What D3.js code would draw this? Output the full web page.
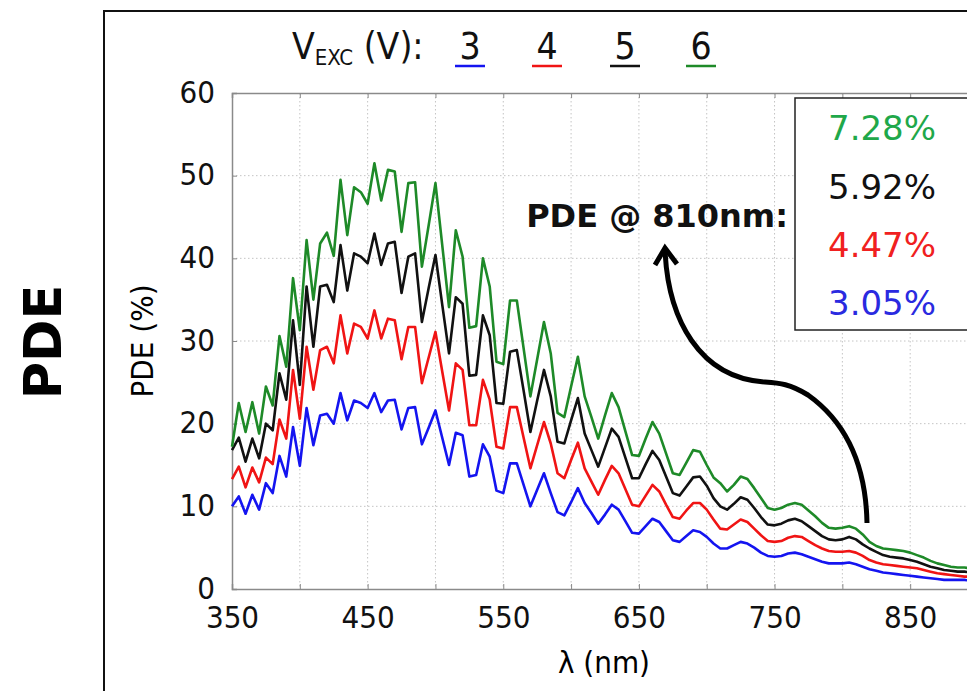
<!DOCTYPE html>
<html>
<head>
<meta charset="utf-8">
<script src="https://cdn.jsdelivr.net/npm/d3@7"></script>
<style>
  body { margin: 0; background: #fff; }
  svg text { font-family: "DejaVu Sans Condensed", "DejaVu Sans", sans-serif; font-stretch: condensed; }
</style>
</head>
<body>
<div id="chart"></div>
<script>
// wavelength samples (nm), every 5 nm
var wavelengths = d3.range(350, 901, 5);

// PDE (%) per excitation voltage
var pde3V = [10.0, 11.2, 9.1, 11.4, 9.6, 12.8, 11.6, 16.1, 13.6, 19.6, 14.9, 21.9, 17.4, 21.0, 21.2, 20.0, 23.7, 20.4, 22.8, 22.5,
  21.9, 23.7, 21.4, 22.8, 22.9, 19.3, 21.9, 22.0, 17.5, 19.5, 21.6, 18.3, 15.0, 18.9, 18.6, 13.6, 13.8, 17.5, 16.0, 11.9,
  11.6, 15.2, 15.2, 12.6, 10.0, 12.0, 14.0, 11.6, 9.3, 8.9, 10.5, 12.2, 10.4, 9.2, 7.9, 9.0, 10.2, 9.6, 8.2, 6.8,
  6.7, 7.6, 8.5, 8.1, 7.0, 5.9, 5.7, 6.4, 7.1, 6.9, 6.3, 5.5, 4.9, 4.9, 5.3, 5.7, 5.5, 5.0, 4.4, 4.0,
  3.9, 4.0, 4.3, 4.4, 4.2, 3.9, 3.6, 3.3, 3.1, 3.1, 3.1, 3.2, 3.0, 2.7, 2.4, 2.2, 2.0, 1.9, 1.8, 1.7,
  1.6, 1.5, 1.4, 1.3, 1.2, 1.1, 1.1, 1.1, 1.1, 1.0, 1.0];
var pde4V = [13.3, 14.8, 12.3, 14.7, 12.9, 15.9, 15.1, 20.5, 18.2, 26.5, 20.6, 29.3, 24.1, 28.9, 29.3, 27.3, 33.1, 28.5, 32.1, 31.7,
  30.3, 33.7, 30.3, 32.7, 32.5, 27.8, 31.7, 31.7, 24.9, 28.0, 31.1, 26.3, 21.6, 27.3, 26.5, 19.8, 19.8, 25.3, 22.9, 17.2,
  17.0, 22.0, 22.0, 18.3, 14.6, 17.4, 20.2, 17.6, 14.0, 13.4, 15.6, 17.7, 14.6, 13.0, 11.4, 13.2, 14.9, 14.0, 12.1, 10.2,
  10.0, 11.3, 12.6, 11.8, 10.2, 8.7, 8.5, 9.5, 10.4, 10.4, 9.6, 8.4, 7.3, 7.2, 7.8, 8.4, 8.1, 7.3, 6.5, 5.8,
  5.7, 5.8, 6.2, 6.4, 6.3, 5.8, 5.3, 4.9, 4.6, 4.5, 4.5, 4.6, 4.4, 4.0, 3.5, 3.2, 3.0, 2.9, 2.8, 2.7,
  2.6, 2.5, 2.3, 2.1, 1.9, 1.8, 1.7, 1.6, 1.5, 1.5, 1.5];
var pde5V = [16.8, 18.3, 15.4, 18.2, 15.8, 20.0, 19.2, 26.1, 22.9, 32.5, 24.7, 36.6, 29.3, 36.6, 36.8, 34.7, 41.6, 36.1, 40.6, 40.2,
  39.4, 43.0, 39.2, 41.8, 42.0, 35.8, 40.2, 40.6, 32.3, 36.4, 40.4, 34.4, 28.5, 35.3, 34.5, 25.8, 25.9, 33.1, 30.7, 22.5,
  22.4, 28.7, 28.9, 24.0, 19.0, 22.8, 26.5, 23.3, 17.8, 17.6, 20.4, 23.1, 18.8, 16.8, 14.8, 17.1, 19.4, 18.4, 15.9, 13.4,
  13.4, 15.1, 16.7, 15.6, 13.6, 11.6, 11.3, 12.4, 13.5, 13.6, 12.5, 11.0, 10.0, 9.6, 10.3, 11.1, 10.8, 9.8, 8.7, 7.8,
  7.7, 7.9, 8.3, 8.5, 8.2, 7.6, 7.0, 6.4, 6.0, 5.9, 6.0, 6.3, 6.0, 5.4, 4.9, 4.5, 4.1, 3.9, 3.8, 3.7,
  3.5, 3.3, 3.0, 2.7, 2.5, 2.3, 2.2, 2.1, 2.1, 2.0, 2.0];
var pde6V = [17.2, 22.5, 19.0, 22.6, 18.8, 24.5, 22.2, 30.6, 26.9, 37.6, 31.3, 42.2, 35.0, 41.8, 43.1, 40.3, 49.5, 42.8, 48.6, 48.0,
  46.6, 51.5, 47.0, 50.7, 50.5, 43.2, 49.1, 49.2, 39.0, 44.0, 49.1, 41.6, 34.1, 43.4, 40.2, 31.6, 31.8, 40.0, 36.6, 27.5,
  27.2, 34.9, 34.9, 29.1, 23.3, 27.8, 32.3, 28.5, 21.3, 20.8, 24.5, 28.1, 23.3, 20.8, 18.2, 21.0, 23.7, 22.0, 19.1, 16.2,
  16.1, 18.2, 20.2, 18.8, 16.4, 14.0, 13.8, 15.3, 16.8, 16.6, 15.0, 13.5, 12.8, 11.8, 12.6, 13.6, 13.3, 12.2, 11.0, 9.8,
  9.6, 9.8, 10.2, 10.4, 10.2, 9.5, 8.8, 8.0, 7.4, 7.3, 7.4, 7.6, 7.3, 6.6, 5.7, 5.2, 4.9, 4.8, 4.7, 4.6,
  4.4, 4.1, 3.8, 3.4, 3.1, 2.9, 2.7, 2.6, 2.6, 2.5, 2.5];

var voltages = ["3", "4", "5", "6"];
var seriesColors = ["#1414f0", "#f01414", "#111111", "#1e8a28"];
var pdeAt810 = ["3.05%", "4.47%", "5.92%", "7.28%"];
var labelColors = ["#2a2ae0", "#f02020", "#111111", "#1fa84a"];

var xTicks = [350, 450, 550, 650, 750, 850];
var yTicks = [0, 10, 20, 30, 40, 50, 60];

var width = 967;
var height = 691;

var svg = d3.select("#chart")
    .append("svg")
    .attr("width", width)
    .attr("height", height);

// scales: plot area runs off the right edge of the picture
var x = d3.scaleLinear().domain([350, 900]).range([232, 978]);
var y = d3.scaleLinear().domain([0, 60]).range([589, 93]);

// outer frame (only left and top edges are visible)
svg.append("path")
    .attr("d", "M104,691 L104,11 L967,11")
    .attr("fill", "none")
    .attr("stroke", "#111")
    .attr("stroke-width", 2);

// big rotated "PDE"
svg.append("text")
    .attr("transform", "translate(61,342) rotate(-90)")
    .attr("text-anchor", "middle")
    .style("font-family", "'DejaVu Sans', Verdana, sans-serif")
    .style("font-stretch", "normal")
    .style("font-weight", "bold")
    .style("font-size", "51px")
    .text("PDE");

// grid lines
var grid = svg.append("g");
grid.selectAll(".vgrid")
    .data(d3.range(400, 901, 50))
    .enter()
    .append("line")
    .attr("x1", function(d) { return x(d); })
    .attr("x2", function(d) { return x(d); })
    .attr("y1", y(60))
    .attr("y2", y(0))
    .attr("stroke", "#c4c4c4")
    .attr("stroke-width", 1)
    .attr("stroke-dasharray", "1.5,2.5");
grid.selectAll(".hgrid")
    .data(d3.range(10, 60, 10))
    .enter()
    .append("line")
    .attr("x1", x(350))
    .attr("x2", width)
    .attr("y1", function(d) { return y(d); })
    .attr("y2", function(d) { return y(d); })
    .attr("stroke", "#c4c4c4")
    .attr("stroke-width", 1)
    .attr("stroke-dasharray", "1.5,2.5");

// axes (bottom + left) and mirrored top axis
var xAxis = d3.axisBottom(x).tickValues(d3.range(350, 901, 50)).tickSize(-5).tickFormat(function(d) {
    return xTicks.indexOf(d) >= 0 ? d : "";
});
var yAxis = d3.axisLeft(y).tickValues(yTicks).tickSize(-5);

var gx = svg.append("g")
    .attr("transform", "translate(0," + y(0) + ")")
    .call(xAxis);
gx.select(".domain").attr("stroke", "#8a8a8a").attr("stroke-width", 1.5);
gx.selectAll(".tick line").attr("stroke", "#8a8a8a");
gx.selectAll(".tick text")
    .attr("y", 17)
    .attr("dy", "0.71em")
    .style("font-size", "31px")
    .attr("fill", "#111");

var gxTop = svg.append("g")
    .attr("transform", "translate(0," + y(60) + ")")
    .call(d3.axisTop(x).tickValues(d3.range(350, 901, 50)).tickSize(-5).tickFormat(""));
gxTop.select(".domain").attr("stroke", "#8a8a8a").attr("stroke-width", 1.5);
gxTop.selectAll(".tick line").attr("stroke", "#8a8a8a");

var gy = svg.append("g")
    .attr("transform", "translate(" + x(350) + ",0)")
    .call(yAxis);
gy.select(".domain").attr("stroke", "#8a8a8a").attr("stroke-width", 1.5);
gy.selectAll(".tick text")
    .attr("x", -17)
    .attr("dy", "0.3em")
    .style("font-size", "31px")
    .attr("fill", "#111");
gy.selectAll(".tick line").attr("stroke", "#8a8a8a");

// axis titles
svg.append("text")
    .attr("x", 604)
    .attr("y", 673)
    .attr("text-anchor", "middle")
    .style("font-size", "31px")
    .text("λ (nm)");

svg.append("text")
    .attr("transform", "translate(153,341) rotate(-90)")
    .attr("text-anchor", "middle")
    .style("font-size", "31px")
    .text("PDE (%)");

// the four curves
var allSeries = [pde3V, pde4V, pde5V, pde6V];
var line = d3.line()
    .x(function(d, i) { return x(wavelengths[i]); })
    .y(function(d) { return y(d); });

svg.append("g")
    .selectAll("path")
    .data(allSeries)
    .enter()
    .append("path")
    .attr("d", line)
    .attr("fill", "none")
    .attr("stroke", function(d, i) { return seriesColors[i]; })
    .attr("stroke-width", 2.6)
    .attr("stroke-linejoin", "round");

// legend on top: V_EXC (V): 3 4 5 6
var legText = svg.append("text")
    .attr("x", 292)
    .attr("y", 59)
    .style("font-size", "37px")
    .attr("fill", "#111");
legText.append("tspan").text("V");
legText.append("tspan").attr("dy", 6).style("font-size", "22px").text("EXC");
legText.append("tspan").attr("dy", -6).text(" (V):");

var legX = [470, 547, 625, 701];
var leg = svg.append("g")
    .selectAll("g")
    .data(voltages)
    .enter()
    .append("g");
leg.append("text")
    .attr("x", function(d, i) { return legX[i]; })
    .attr("y", 59)
    .attr("text-anchor", "middle")
    .style("font-size", "37px")
    .attr("fill", "#111")
    .text(function(d) { return d; });
leg.append("line")
    .attr("x1", function(d, i) { return legX[i] - 15; })
    .attr("x2", function(d, i) { return legX[i] + 15; })
    .attr("y1", 66)
    .attr("y2", 66)
    .attr("stroke", function(d, i) { return seriesColors[i]; })
    .attr("stroke-width", 2.5);

// PDE @ 810nm box
svg.append("rect")
    .attr("x", 795)
    .attr("y", 98)
    .attr("width", 200)
    .attr("height", 232)
    .attr("fill", "#fff")
    .attr("stroke", "#222")
    .attr("stroke-width", 1.5);

var boxY = [303, 245, 187, 128];
svg.append("g")
    .selectAll("text")
    .data(pdeAt810)
    .enter()
    .append("text")
    .attr("x", 828)
    .attr("y", function(d, i) { return boxY[i]; })
    .attr("dy", "0.35em")
    .style("font-family", "'DejaVu Sans', Verdana, sans-serif")
    .style("font-stretch", "normal")
    .style("font-size", "34px")
    .attr("fill", function(d, i) { return labelColors[i]; })
    .text(function(d) { return d; });

svg.append("text")
    .attr("x", 788)
    .attr("y", 216)
    .attr("dy", "0.35em")
    .attr("text-anchor", "end")
    .style("font-family", "'DejaVu Sans', Verdana, sans-serif")
    .style("font-stretch", "normal")
    .style("font-weight", "bold")
    .style("font-size", "32px")
    .attr("fill", "#111")
    .text("PDE @ 810nm:");

// curved arrow pointing at the label
svg.append("path")
    .attr("d", "M867,523 C866,470 850,425 808,395 C790,384 780,383 765,382 C700,378 668,320 665,250")
    .attr("fill", "none")
    .attr("stroke", "#000")
    .attr("stroke-width", 5);
svg.append("path")
    .attr("d", "M655,265 L665,248 L677,264")
    .attr("fill", "none")
    .attr("stroke", "#000")
    .attr("stroke-width", 5)
    .attr("stroke-linejoin", "miter");
</script>
</body>
</html>
